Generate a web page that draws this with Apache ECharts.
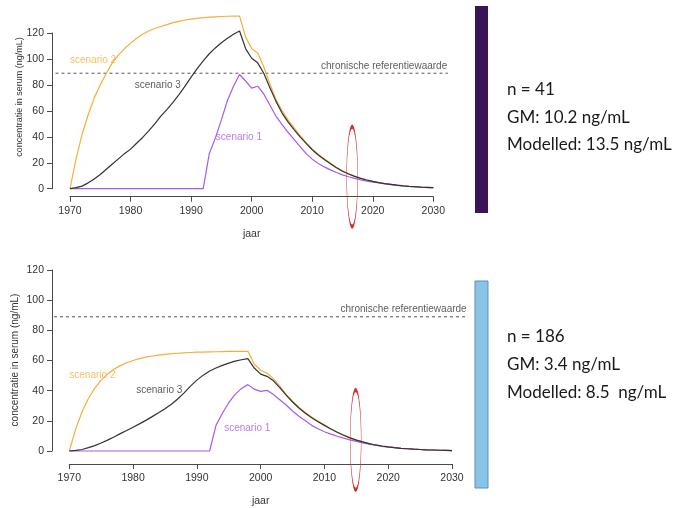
<!DOCTYPE html>
<html>
<head>
<meta charset="utf-8">
<script src="https://cdn.jsdelivr.net/npm/echarts@6/dist/echarts.min.js"></script>
<style>
  html, body { margin: 0; padding: 0; background: #fff; }
  #chart { width: 677px; height: 508px; }
</style>
</head>
<body>
<div id="chart"></div>
<script>
// jaar
const years = [
  1970, 1971, 1972, 1973, 1974, 1975, 1976, 1977, 1978, 1979,
  1980, 1981, 1982, 1983, 1984, 1985, 1986, 1987, 1988, 1989,
  1990, 1991, 1992, 1993, 1994, 1995, 1996, 1997, 1998, 1999,
  2000, 2001, 2002, 2003, 2004, 2005, 2006, 2007, 2008, 2009,
  2010, 2011, 2012, 2013, 2014, 2015, 2016, 2017, 2018, 2019,
  2020, 2021, 2022, 2023, 2024, 2025, 2026, 2027, 2028, 2029,
  2030
]

// bovenste grafiek (n = 41)
const topScenario1 = [
  0, 0, 0, 0, 0, 0, 0, 0, 0, 0,
  0, 0, 0, 0, 0, 0, 0, 0, 0, 0,
  0, 0, 0, 27, 39, 53, 68, 79, 88, 83,
  77.5, 79, 73, 64.5, 56, 49.5, 43.5, 38, 32.5, 27,
  22.8, 19.5, 16.8, 14.5, 12.5, 10.7, 9.2, 7.9, 6.8, 5.9,
  5.1, 4.4, 3.7, 3.1, 2.6, 2.1, 1.7, 1.4, 1.1, 0.9,
  0.7
]
const topScenario2 = [
  0, 23, 42, 57, 70, 80, 89, 97, 103, 108,
  112, 116, 119, 121.5, 123.5, 125, 126.5, 128, 129, 130,
  130.7, 131.3, 131.8, 132.2, 132.5, 132.7, 132.9, 133, 133, 117,
  108, 104.5, 94, 81, 69, 60.5, 53, 47, 41, 35.5,
  30.5, 26.5, 23, 19.8, 16.6, 13.8, 11.6, 9.7, 8.1, 6.8,
  5.7, 4.8, 4, 3.4, 2.8, 2.3, 1.9, 1.6, 1.3, 1.1,
  0.9
]
const topScenario3 = [
  0, 0.8, 2, 4.5, 7.5, 11, 15, 19, 23, 27,
  30.5, 35, 39.5, 44.5, 50, 56, 61, 66.5, 72.5, 79,
  86, 92.5, 98.5, 104, 108.5, 112.5, 116, 119, 121.5, 108,
  100.5, 97, 89, 78, 67.5, 58.5, 51.5, 45.5, 40, 35,
  30, 26, 22.5, 19.3, 16.2, 13.5, 11.3, 9.5, 8, 6.7,
  5.6, 4.7, 3.9, 3.3, 2.7, 2.2, 1.8, 1.5, 1.2, 1,
  0.8
]

// onderste grafiek (n = 186)
const bottomScenario1 = [
  0, 0, 0, 0, 0, 0, 0, 0, 0, 0,
  0, 0, 0, 0, 0, 0, 0, 0, 0, 0,
  0, 0, 0, 17, 25, 32, 37.5, 41.5, 44, 41,
  39.5, 40.2, 37.5, 34, 30.5, 26.5, 23, 20, 17, 14.7,
  12.8, 11.2, 9.8, 8.5, 7.4, 6.4, 5.4, 4.5, 3.8, 3.1,
  2.6, 2.2, 1.8, 1.5, 1.2, 1, 0.8, 0.65, 0.5, 0.4,
  0.3
]
const bottomScenario2 = [
  0, 14.5, 26, 34.8, 41.7, 47, 51, 54.2, 56.6, 58.5,
  60, 61.2, 62.2, 63, 63.6, 64.1, 64.5, 64.8, 65.1, 65.3,
  65.5, 65.6, 65.7, 65.8, 65.9, 66, 66, 66.1, 66.1, 57.5,
  53.5, 51.5, 48, 43, 37.5, 33, 29, 25.5, 22.5, 19.8,
  17.2, 14.8, 12.6, 10.6, 8.9, 7.4, 6.1, 4.9, 4, 3.3,
  2.7, 2.2, 1.8, 1.5, 1.2, 1, 0.8, 0.7, 0.55, 0.45,
  0.35
]
const bottomScenario3 = [
  0, 0.4, 1, 2.2, 3.6, 5.3, 7.2, 9.3, 11.5, 13.6,
  15.8, 18, 20.3, 22.8, 25.3, 28, 31, 34.5, 38.5, 43,
  47, 50.3, 53, 55, 56.8, 58.3, 59.6, 60.5, 61.2, 55,
  51, 49.5, 46.5, 42, 37, 32.5, 28.5, 25, 22, 19.4,
  17, 14.6, 12.4, 10.4, 8.7, 7.2, 6, 4.9, 4, 3.3,
  2.7, 2.2, 1.8, 1.5, 1.2, 1, 0.8, 0.65, 0.5, 0.4,
  0.3
]

const referenceValue = 89   // chronische referentiewaarde
const xMin = 1970
const xMax = 2030
const yTicks = [0, 20, 40, 60, 80, 100, 120]

// [x, y] marked by the red ellipse (measurement year)
const topHighlight = [2016.6, 9.3]
const bottomHighlight = [2014.9, 7.4]

// in-plot labels: [text, x, y]
const topNotes = [
  ['scenario 2', 1970, 99],
  ['scenario 3', 1984.5, 80],
  ['scenario 1', 1997.9, 40],
  ['chronische referentiewaarde', 2032.3, 94]
]
const bottomNotes = [
  ['scenario 2', 1970, 50],
  ['scenario 3', 1984.1, 40],
  ['scenario 1', 1997.9, 15],
  ['chronische referentiewaarde', 2032.3, 94]
]

const topStats = ['n = 41', 'GM: 10.2 ng/mL', 'Modelled: 13.5 ng/mL']
const bottomStats = ['n = 186', 'GM: 3.4 ng/mL', 'Modelled: 8.5  ng/mL']

const C1 = '#A75BE6'
const C2 = '#F3AE3D'
const C3 = '#333333'
const noteColors = [C2, C3, C1, '#333333']
const noteAlign = ['left', 'center', 'center', 'right']
const axisColor = '#4a4a4a'
const font = 'Liberation Sans'

function pairs(vals) {
  return years.map((y, i) => [y, vals[i]])
}

function xAxisFor(idx, offset) {
  return {
    gridIndex: idx,
    type: 'value',
    min: xMin,
    max: xMax,
    interval: 10,
    offset: offset,
    name: 'jaar',
    nameLocation: 'middle',
    nameGap: 32,
    nameTextStyle: { fontSize: 10.5, color: '#333', fontFamily: font },
    axisLine: { show: true, onZero: false, lineStyle: { color: axisColor, width: 1 } },
    axisTick: { show: true, length: 5, lineStyle: { color: axisColor } },
    axisLabel: { fontSize: 10.5, color: '#333', margin: 9, fontFamily: font, formatter: v => String(v) },
    splitLine: { show: false }
  }
}

function yAxisFor(idx, offset) {
  return {
    gridIndex: idx,
    type: 'value',
    min: yTicks[0],
    max: yTicks[yTicks.length - 1],
    interval: 20,
    offset: offset,
    axisLine: { show: true, onZero: false, lineStyle: { color: axisColor, width: 1 } },
    axisTick: { show: true, length: 5, lineStyle: { color: axisColor } },
    axisLabel: { fontSize: 10.5, color: '#333', margin: 8, fontFamily: font },
    splitLine: { show: false }
  }
}

// dashed reference line, running over the whole R plot region (4% past each end)
function refLineItem(params, api) {
  const a = api.coord([xMin, api.value(1)])
  const b = api.coord([xMax, api.value(1)])
  const ext = (b[0] - a[0]) * 0.04
  return {
    type: 'line',
    shape: { x1: a[0] - ext, y1: a[1], x2: b[0] + ext, y2: b[1] },
    style: { stroke: '#555', lineWidth: 1, lineDash: [3, 3] }
  }
}

function seriesFor(idx, s1, s2, s3, notes, highlight) {
  const base = {
    type: 'line',
    xAxisIndex: idx,
    yAxisIndex: idx,
    showSymbol: false,
    symbol: 'none',
    clip: false,
    animation: false
  }
  return [
    {
      type: 'custom',
      name: 'chronische referentiewaarde',
      xAxisIndex: idx,
      yAxisIndex: idx,
      clip: false,
      silent: true,
      animation: false,
      renderItem: refLineItem,
      data: [[xMin, referenceValue]]
    },
    Object.assign({}, base, { name: 'scenario 2', data: pairs(s2), lineStyle: { color: C2, width: 1.2 } }),
    Object.assign({}, base, { name: 'scenario 1', data: pairs(s1), lineStyle: { color: C1, width: 1.2 } }),
    Object.assign({}, base, { name: 'scenario 3', data: pairs(s3), lineStyle: { color: C3, width: 1.2 } }),
    {
      type: 'scatter',
      xAxisIndex: idx,
      yAxisIndex: idx,
      symbolSize: 0,
      clip: false,
      silent: true,
      animation: false,
      data: notes.map((n, i) => ({
        value: [n[1], n[2]],
        label: {
          show: true,
          position: 'inside',
          formatter: n[0],
          align: noteAlign[i],
          verticalAlign: 'middle',
          color: noteColors[i],
          fontSize: 10,
          fontFamily: font
        }
      }))
    },
    {
      type: 'scatter',
      xAxisIndex: idx,
      yAxisIndex: idx,
      symbol: 'circle',
      symbolSize: [11, 100],
      clip: false,
      silent: true,
      animation: false,
      itemStyle: { color: 'none', opacity: 1, borderColor: '#D03030', borderWidth: 1.4 },
      data: [highlight]
    }
  ]
}

function statsText(lines, x, ys) {
  return lines.map((t, i) => ({
    type: 'text',
    x: x,
    y: ys[i],
    style: { text: t, font: '17px Lato', fill: '#1a1a1a', align: 'left', verticalAlign: 'middle' }
  }))
}

const chart = echarts.init(document.getElementById('chart'))
chart.setOption({
  animation: false,
  textStyle: { fontFamily: font },
  grid: [
    { left: 70, top: 33, width: 363.3, height: 155.7 },
    { left: 69.3, top: 270, width: 382.7, height: 182 }
  ],
  xAxis: [xAxisFor(0, 8), xAxisFor(1, 13)],
  yAxis: [yAxisFor(0, 18), yAxisFor(1, 17.3)],
  series: seriesFor(0, topScenario1, topScenario2, topScenario3, topNotes, topHighlight)
    .concat(seriesFor(1, bottomScenario1, bottomScenario2, bottomScenario3, bottomNotes, bottomHighlight)),
  graphic: [
    {
      type: 'text', x: 20, y: 97, rotation: Math.PI / 2,
      style: { text: 'concentratie in serum (ng/mL)', font: '9px Liberation Sans', fill: '#333', align: 'center', verticalAlign: 'middle' }
    },
    {
      type: 'text', x: 15, y: 360, rotation: Math.PI / 2,
      style: { text: 'concentratie in serum (ng/mL)', font: '10px Liberation Sans', fill: '#333', align: 'center', verticalAlign: 'middle' }
    },
    { type: 'rect', shape: { x: 475, y: 6, width: 13, height: 207 }, style: { fill: '#3A1459' } },
    { type: 'rect', shape: { x: 475, y: 281, width: 13, height: 207 }, style: { fill: '#89C3E7', stroke: '#5E8FB3', lineWidth: 1 } }
  ].concat(statsText(topStats, 507, [90, 118, 145]))
   .concat(statsText(bottomStats, 507, [337, 365, 393]))
})
</script>
</body>
</html>
